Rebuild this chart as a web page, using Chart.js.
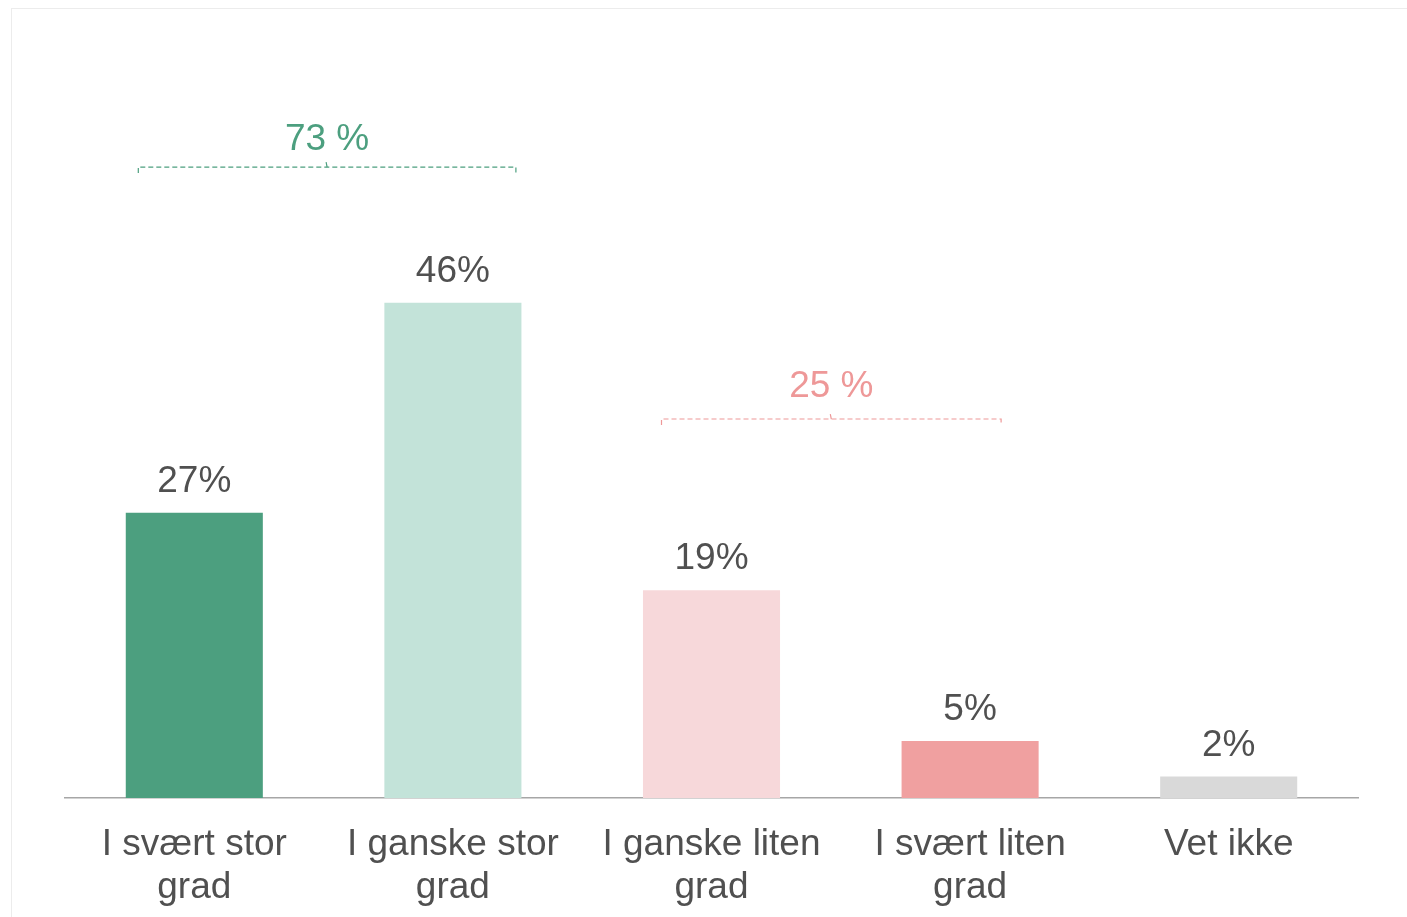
<!DOCTYPE html>
<html>
<head>
<meta charset="utf-8">
<script src="https://cdn.jsdelivr.net/npm/chart.js@4/dist/chart.umd.min.js"></script>
<style>
  html, body { margin: 0; background: #fff; overflow: hidden; }
  #wrap { position: relative; width: 1407px; height: 917px; }
  #frame { position: absolute; left: 11px; top: 8px; right: 0; bottom: 0;
           border-top: 1px solid #ececec; border-left: 1px solid #ececec; }
  canvas { position: absolute; left: 0; top: 0; }
</style>
</head>
<body>
<div id="wrap">
  <div id="frame"></div>
  <canvas id="chart1" width="1407" height="917"></canvas>
</div>
<script>
var categories = [
    ["I svært stor", "grad"],
    ["I ganske stor", "grad"],
    ["I ganske liten", "grad"],
    ["I svært liten", "grad"],
    ["Vet ikke"]
];
var values = [26.5, 46, 19.3, 5.3, 2];
var barColors = ["#4c9f7f", "#c3e3d9", "#f7d8da", "#f0a0a0", "#d9d9d9"];
var groupLabels = ["73 %", "25 %"];

var textColor = "#505050";
var fontFamily = "'Liberation Sans', Arial, sans-serif";

// value labels above bars + the two dashed group brackets
var annotate = {
    id: 'annotate',
    afterDatasetsDraw: function (chart) {
        var ctx = chart.ctx;
        var meta = chart.getDatasetMeta(0);
        var x = chart.scales.x, y = chart.scales.y;
        ctx.save();
        ctx.font = "37px " + fontFamily;
        ctx.fillStyle = textColor;
        ctx.textAlign = "center";
        ctx.textBaseline = "middle";
        meta.data.forEach(function (bar, i) {
            ctx.fillText(Math.round(values[i]) + "%", bar.x, bar.y - 31);
        });

        function bracket(x1, x2, yv, color, text, gap) {
            var yy = y.getPixelForValue(yv);
            var mid = (x1 + x2) / 2;
            ctx.strokeStyle = color;
            ctx.lineWidth = 1.2;
            ctx.setLineDash([5, 3]);
            ctx.beginPath();
            ctx.moveTo(x1, yy + 6);
            ctx.lineTo(x1, yy);
            ctx.lineTo(x2, yy);
            ctx.lineTo(x2, yy + 6);
            ctx.stroke();
            ctx.setLineDash([]);
            ctx.beginPath();
            ctx.moveTo(mid, yy);
            ctx.lineTo(mid - 1, yy - 5);
            ctx.stroke();
            ctx.fillStyle = color;
            ctx.fillText(text, mid, yy - gap);
        }
        bracket(x.getPixelForValue(0) - 56, x.getPixelForValue(1) + 63, 58.6, "#4c9f7f", groupLabels[0], 27);
        bracket(x.getPixelForValue(2) - 50, x.getPixelForValue(3) + 31, 35.2, "#ee9898", groupLabels[1], 32);
        ctx.restore();
    }
};

window.onload = function () {
    var ctx1 = document.getElementById('chart1').getContext('2d');
    window.theChart1 = new Chart(ctx1, {
        type: 'bar',
        data: {
            labels: categories,
            datasets: [{
                data: values,
                backgroundColor: barColors,
                borderWidth: 0,
                categoryPercentage: 1,
                barPercentage: 0.53
            }]
        },
        options: {
            responsive: false,
            animation: false,
            layout: { padding: { left: 65, right: 49, top: 152, bottom: 0 } },
            plugins: { legend: { display: false }, tooltip: { enabled: false } },
            scales: {
                x: {
                    grid: { display: false },
                    border: { display: true, color: "#a6a6a6", width: 1.5 },
                    ticks: {
                        color: textColor,
                        padding: 17,
                        maxRotation: 0,
                        autoSkip: false,
                        font: { family: fontFamily, size: 37, lineHeight: 1.16 }
                    },
                    afterFit: function (scale) {
                        scale.height = 119;
                    }
                },
                y: {
                    display: false,
                    min: 0,
                    max: 60
                }
            }
        },
        plugins: [annotate]
    });
};
</script>
</body>
</html>
